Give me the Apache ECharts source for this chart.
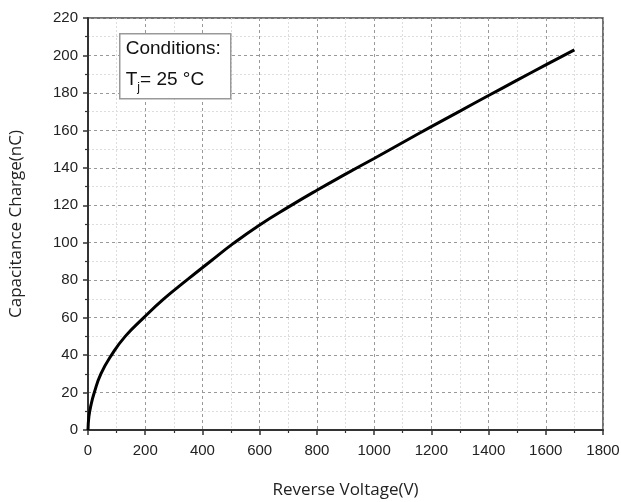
<!DOCTYPE html>
<html>
<head>
<meta charset="utf-8">
<script src="https://cdn.jsdelivr.net/npm/echarts@6/dist/echarts.min.js"></script>
<style>
  html, body { margin: 0; padding: 0; background: #fff; }
  #chart { width: 621px; height: 502px; }
</style>
</head>
<body>
<div id="chart"></div>
<script>
// reverse voltage (V) vs capacitance charge (nC)
var voltage = [0, 3, 10, 22, 45, 82, 130, 195, 265, 345, 425, 507, 600, 700, 800, 900, 1000, 1100, 1200, 1300, 1400, 1500, 1600, 1700];
var charge  = [0, 7, 13, 20, 30, 40, 50, 60, 70, 80, 89.7, 99.5, 109.5, 119, 128, 136.6, 145, 153.5, 162, 170.3, 178.6, 186.8, 195, 203];

var xTicks = { min: 0, max: 1800, step: 200 };
var yTicks = { min: 0, max: 220, step: 20 };

var points = voltage.map(function (v, i) { return [v, charge[i]]; });

var myChart = echarts.init(document.getElementById('chart'));

var axisCommon = {
    axisLine: { show: true, lineStyle: { color: '#333', width: 2 } },
    axisTick: { show: true, inside: false, length: 5, lineStyle: { color: '#333', width: 1.5 } },
    minorTick: { show: true, splitNumber: 2, length: 3, lineStyle: { color: '#333', width: 1.2 } },
    axisLabel: { color: '#222', fontFamily: 'Liberation Sans', fontSize: 15, formatter: function (v) { return String(v); } },
    splitLine: { show: true, lineStyle: { color: '#999', type: [3, 3], width: 1 } },
    minorSplitLine: { show: true, lineStyle: { color: '#ddd', type: [2, 2], width: 1 } }
};

var option = {
    backgroundColor: '#fff',
    animation: false,
    grid: {
        left: 88, right: 18, top: 18, bottom: 72,
        outerBoundsMode: 'none',
        show: true, borderColor: '#444', borderWidth: 1.5, backgroundColor: 'transparent'
    },
    xAxis: Object.assign({}, axisCommon, {
        type: 'value',
        min: xTicks.min, max: xTicks.max, interval: xTicks.step,
        name: 'Reverse Voltage(V)',
        nameLocation: 'middle',
        nameGap: 52,
        nameTextStyle: { color: '#222', fontFamily: 'Open Sans', fontSize: 17 },
        axisLabel: Object.assign({}, axisCommon.axisLabel, { margin: 13 })
    }),
    yAxis: Object.assign({}, axisCommon, {
        type: 'value',
        min: yTicks.min, max: yTicks.max, interval: yTicks.step,
        name: 'Capacitance Charge(nC)',
        nameLocation: 'middle',
        nameGap: 63,
        nameTextStyle: { color: '#222', fontFamily: 'Open Sans', fontSize: 17 },
        axisLabel: Object.assign({}, axisCommon.axisLabel, { margin: 10 })
    }),
    series: [{
        type: 'line',
        data: points,
        smooth: true,
        showSymbol: false,
        lineStyle: { color: '#000', width: 3 }
    }],
    graphic: [{
        type: 'group',
        left: 119, top: 33,
        z: 100,
        children: [{
            type: 'rect',
            z: 100,
            shape: { x: 0, y: 0, width: 111, height: 65 },
            style: { fill: '#fff', stroke: '#999', lineWidth: 1.5 }
        }, {
            type: 'text',
            z: 101,
            x: 6, y: 6,
            style: {
                text: 'Conditions:',
                fill: '#111', font: '19px "Liberation Sans"'
            }
        }, {
            type: 'text',
            z: 101,
            x: 6, y: 32,
            style: {
                text: '{t|T}{s|j}{t|= 25 °C}',
                rich: {
                    t: { fill: '#111', fontFamily: 'Liberation Sans', fontSize: 19 },
                    s: { fill: '#111', fontFamily: 'Liberation Sans', fontSize: 12, padding: [16, 0, 0, 0] }
                }
            }
        }]
    }]
};

myChart.setOption(option);
</script>
</body>
</html>
